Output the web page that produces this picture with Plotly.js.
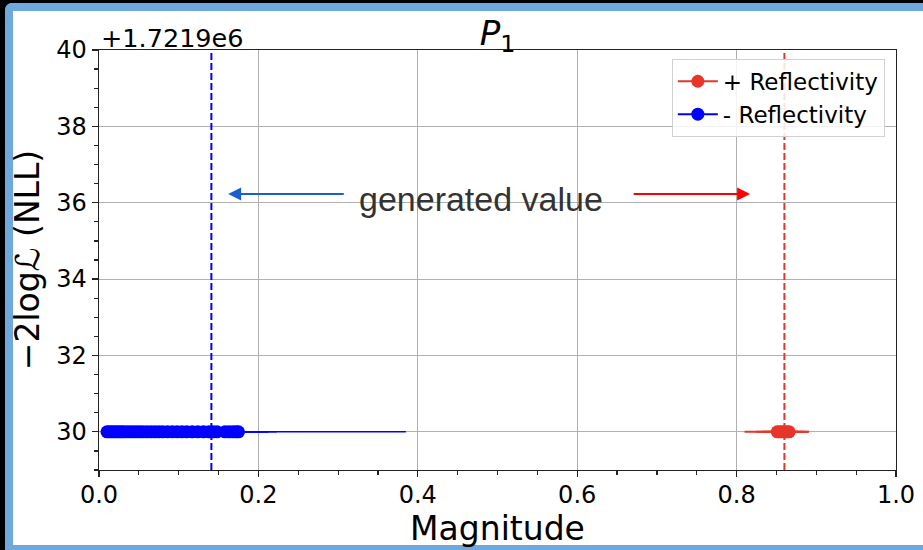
<!DOCTYPE html>
<html>
<head>
<meta charset="utf-8">
<script src="https://cdn.plot.ly/plotly-3.0.1.min.js"></script>
<style>
  html, body { margin: 0; padding: 0; background: #000; width: 923px; height: 550px; overflow: hidden; }
  #frame { position: absolute; left: 5px; top: 3px; width: 918px; height: 547px; box-sizing: border-box;
           background: #fff; border-top: 8px solid #6fa8dc; border-left: 8px solid #6fa8dc; border-bottom: 5px solid #6fa8dc;
           border-top-left-radius: 7px; }
  #plot { position: absolute; left: 0; top: 0; width: 923px; height: 550px; }
</style>
</head>
<body>
<div id="frame"></div>
<div id="plot"></div>
<script>
// ---- data ----
const OFFSET_LABEL = "+1.7219e6";
const plusX      = [0.851, 0.854, 0.857, 0.860, 0.863, 0.866];
const plusNLL    = [1721930, 1721930, 1721930, 1721930, 1721930, 1721930];
const plusErrP   = [0.010, 0.015, 0.020, 0.025, 0.028, 0.024];
const plusErrM   = [0.041, 0.030, 0.025, 0.020, 0.018, 0.015];

const minusX     = [0.010, 0.013, 0.016, 0.019, 0.022, 0.025, 0.028, 0.031, 0.035, 0.039,
                    0.043, 0.047, 0.051, 0.055, 0.060, 0.065, 0.070, 0.075, 0.080, 0.086,
                    0.092, 0.098, 0.104, 0.110, 0.117, 0.124, 0.131, 0.138, 0.143, 0.148,
                    0.158, 0.163, 0.168, 0.172, 0.175];
const minusNLL   = minusX.map(() => 1721930);
const minusErrP  = [0.004, 0.005, 0.004, 0.006, 0.005, 0.004, 0.006, 0.005, 0.006, 0.005,
                    0.006, 0.005, 0.006, 0.007, 0.006, 0.005, 0.006, 0.007, 0.006, 0.007,
                    0.008, 0.007, 0.008, 0.009, 0.008, 0.010, 0.012, 0.015, 0.020, 0.030,
                    0.045, 0.050, 0.055, 0.040, 0.210];
const minusErrM  = [0.004, 0.005, 0.004, 0.006, 0.005, 0.004, 0.006, 0.005, 0.006, 0.005,
                    0.006, 0.005, 0.006, 0.007, 0.006, 0.005, 0.006, 0.007, 0.006, 0.007,
                    0.008, 0.007, 0.008, 0.009, 0.008, 0.010, 0.010, 0.012, 0.012, 0.015,
                    0.015, 0.015, 0.015, 0.015, 0.020];

const generatedPlus  = 0.860;
const generatedMinus = 0.141;

const yTickVals   = [1721930, 1721932, 1721934, 1721936, 1721938, 1721940];
const yTickLabels = ["30", "32", "34", "36", "38", "40"];
const xTickVals   = [0.0, 0.2, 0.4, 0.6, 0.8, 1.0];
const xTickLabels = ["0.0", "0.2", "0.4", "0.6", "0.8", "1.0"];

const arrowY = 1721936.23;
const arrowBlue = {head: 0.162, tail: 0.309};
const arrowRed  = {head: 0.817, tail: 0.669};
const labelX = 0.479, labelY = 1721936.1;

// ---- colours ----
const RED = "#e8352a", BLUE = "#0000ff";
const FONT = "DejaVu Sans, sans-serif";

const traces = [
  { x: minusX, y: minusNLL, type: "scatter", mode: "markers", showlegend: false,
    marker: {color: BLUE, size: 13}, name: "- Reflectivity",
    error_x: {type: "data", symmetric: false, array: minusErrP, arrayminus: minusErrM,
              color: BLUE, thickness: 1.6, width: 0} },
  { x: plusX, y: plusNLL, type: "scatter", mode: "markers", showlegend: false,
    marker: {color: RED, size: 13}, name: "+ Reflectivity",
    error_x: {type: "data", symmetric: false, array: plusErrP, arrayminus: plusErrM,
              color: RED, thickness: 2, width: 0} },
  { x: [null], y: [null], type: "scatter", mode: "lines+markers", name: "+ Reflectivity",
    line: {color: RED, width: 2}, marker: {color: RED, size: 13} },
  { x: [null], y: [null], type: "scatter", mode: "lines+markers", name: "- Reflectivity",
    line: {color: BLUE, width: 2}, marker: {color: BLUE, size: 13} }
];

const axisCommon = {
  showline: true, mirror: true, linecolor: "#222", linewidth: 1.3,
  ticks: "outside", ticklen: 6, tickwidth: 1.2, tickcolor: "#222",
  showgrid: true, gridcolor: "#b0b0b0", gridwidth: 1, zeroline: false,
  tickfont: {family: FONT, size: 24, color: "#000"}, tickmode: "array"
};

const layout = {
  width: 923, height: 550,
  paper_bgcolor: "rgba(0,0,0,0)", plot_bgcolor: "#fff",
  margin: {l: 99, r: 27, t: 50, b: 80},
  font: {family: FONT, color: "#000"},
  title: {text: "<i>P</i><sub>1</sub>", font: {family: FONT, size: 34, color: "#000"},
          xref: "paper", x: 0.5, xanchor: "center", yref: "container", y: 0.94, yanchor: "middle"},
  xaxis: Object.assign({}, axisCommon, {
    range: [0, 1], tickvals: xTickVals, ticktext: xTickLabels, ticklabelstandoff: -3,
    minor: {tickmode: "linear", tick0: 0, dtick: 0.05, ticks: "outside", ticklen: 4, tickcolor: "#222", showgrid: false},
    title: {text: "Magnitude", font: {family: FONT, size: 33, color: "#000"}, standoff: 0}
  }),
  yaxis: Object.assign({}, axisCommon, {
    range: [1721929.0, 1721940], tickvals: yTickVals, ticktext: yTickLabels,
    minor: {tickmode: "linear", tick0: 1721929, dtick: 0.5, ticks: "outside", ticklen: 4, tickcolor: "#222", showgrid: false},
    title: {text: "\u22122log\u2112 (NLL)", font: {family: FONT, size: 33, color: "#000"}, standoff: 6}
  }),
  legend: {x: 0.986, xanchor: "right", y: 0.979, yanchor: "top",
           bgcolor: "rgba(255,255,255,0.85)", bordercolor: "#d0d0d0", borderwidth: 1,
           font: {family: FONT, size: 23, color: "#000"}, itemwidth: 40, tracegroupgap: 0},
  shapes: [
    {type: "line", xref: "x", yref: "paper", x0: generatedMinus, x1: generatedMinus, y0: 0, y1: 1,
     line: {color: BLUE, width: 2, dash: "7px,3px"}},
    {type: "line", xref: "x", yref: "paper", x0: generatedPlus, x1: generatedPlus, y0: 0, y1: 1,
     line: {color: RED, width: 2, dash: "7px,3px"}}
  ],
  annotations: [
    {text: OFFSET_LABEL, xref: "paper", yref: "paper", x: 0, y: 1, xanchor: "left", yanchor: "bottom",
     showarrow: false, font: {family: FONT, size: 25.5, color: "#000"}, yshift: -5},
    {text: "generated value", xref: "x", yref: "y", x: labelX, y: labelY, showarrow: false,
     font: {family: "Liberation Sans, Arial, sans-serif", size: 34, color: "#333"}},
    {text: "", xref: "x", yref: "y", axref: "x", ayref: "y", x: arrowBlue.head, y: arrowY,
     ax: arrowBlue.tail, ay: arrowY, showarrow: true, arrowhead: 2, arrowsize: 1.3, arrowwidth: 2, arrowcolor: "#1a5fd0"},
    {text: "", xref: "x", yref: "y", axref: "x", ayref: "y", x: arrowRed.head, y: arrowY,
     ax: arrowRed.tail, ay: arrowY, showarrow: true, arrowhead: 2, arrowsize: 1.3, arrowwidth: 2, arrowcolor: "#ff0000"}
  ]
};

Plotly.newPlot("plot", traces, layout, {displayModeBar: false, staticPlot: true});
</script>
</body>
</html>
